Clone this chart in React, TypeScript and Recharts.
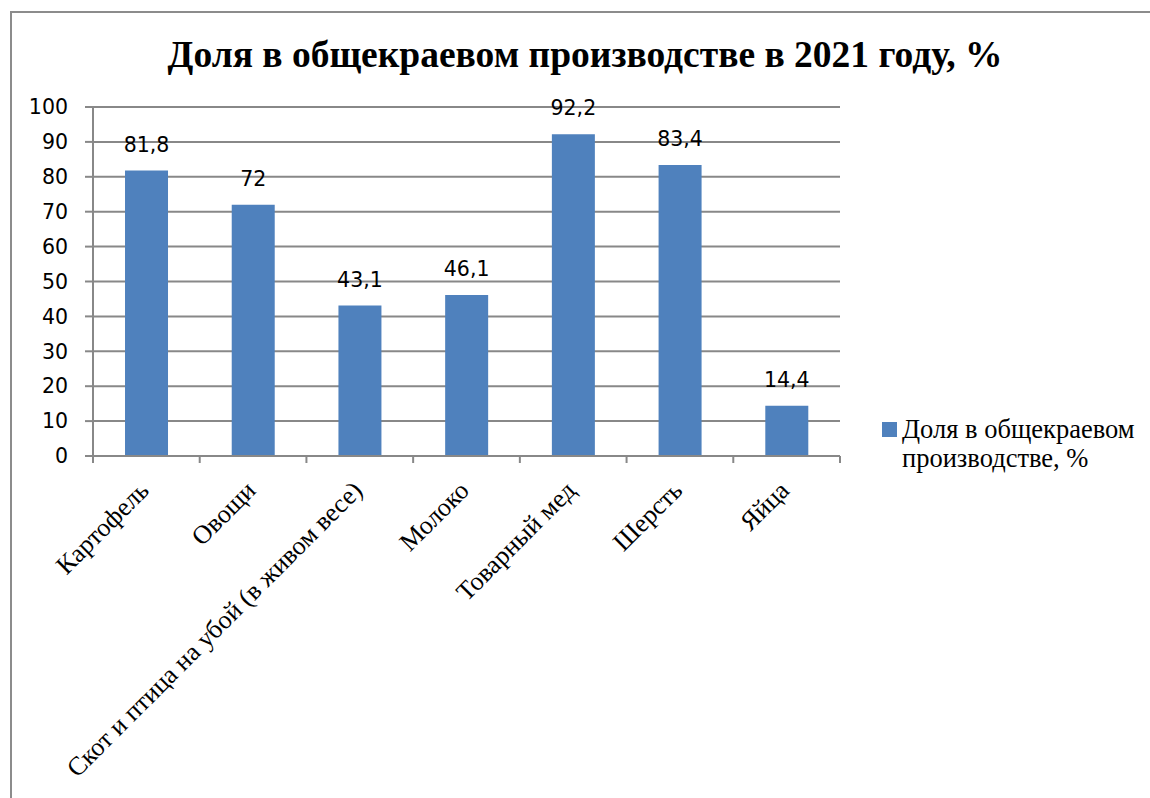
import React from 'react';
import { BarChart, Bar, XAxis, YAxis, CartesianGrid, LabelList } from 'recharts';

// categories and values
const categories = [
  'Картофель',
  'Овощи',
  'Скот и птица на убой (в живом весе)',
  'Молоко',
  'Товарный мед',
  'Шерсть',
  'Яйца',
];
const shares = [81.8, 72, 43.1, 46.1, 92.2, 83.4, 14.4];
const yTicks = [0, 10, 20, 30, 40, 50, 60, 70, 80, 90, 100];

const seriesName = 'Доля в общекраевом производстве, %';
const title = 'Доля в общекраевом производстве в 2021 году, %';

const data = categories.map((name, i) => ({ name, value: shares[i] }));

const SERIF = '"Liberation Serif", "Times New Roman", serif';
const SANS = '"DejaVu Sans", "Noto Sans", sans-serif';

const PLOT_LEFT = 93;
const PLOT_RIGHT = 840;
const BAND = (PLOT_RIGHT - PLOT_LEFT) / categories.length;

// Excel style: tick marks sit between categories, label hangs off the center
function XTick(props) {
  const { x, y, payload, index } = props;
  const last = index === categories.length - 1;
  return (
    <g>
      <line x1={x - BAND / 2} x2={x - BAND / 2} y1={y} y2={y + 7} stroke="#888" strokeWidth={2} />
      {last && <line x1={x + BAND / 2} x2={x + BAND / 2} y1={y} y2={y + 7} stroke="#888" strokeWidth={2} />}
      <g transform={`translate(${x + 4},${y + 36})`}>
        <text transform="rotate(-45)" textAnchor="end" fontFamily={SERIF} fontSize={26} fill="#000">
          {payload.value}
        </text>
      </g>
    </g>
  );
}

export default function App() {
  return (
    <div style={{ position: 'absolute', left: 0, top: 0, width: 1150, height: 798, overflow: 'hidden', background: '#fff' }}>
      <div
        style={{
          position: 'absolute', left: 10, top: 11, width: 1160, height: 820,
          border: '2px solid #8c8c8c', boxSizing: 'border-box',
        }}
      />
      <div
        style={{
          position: 'absolute', left: 0, top: 33, width: 1170, textAlign: 'center',
          fontFamily: SERIF, fontWeight: 'bold', fontSize: 37.5, color: '#000',
        }}
      >
        {title}
      </div>
      <BarChart
        width={1150}
        height={798}
        data={data}
        margin={{ top: 107, right: 1150 - PLOT_RIGHT, left: 0, bottom: 0 }}
        barCategoryGap="30%"
        style={{ position: 'absolute', left: 0, top: 0 }}
      >
        <CartesianGrid vertical={false} stroke="#888" strokeWidth={2} />
        <XAxis
          dataKey="name"
          interval={0}
          height={342}
          tickSize={0}
          tickMargin={0}
          tickLine={false}
          stroke="#888"
          strokeWidth={2}
          tick={<XTick />}
        />
        <YAxis
          width={PLOT_LEFT}
          domain={[0, 100]}
          ticks={yTicks}
          interval={0}
          tickSize={8}
          tickMargin={17}
          stroke="#888"
          strokeWidth={2}
          tick={{ fontFamily: SANS, fontSize: 20.5, fill: '#000' }}
        />
        <Bar dataKey="value" name={seriesName} fill="#4F81BD" isAnimationActive={false}>
          <LabelList
            dataKey="value"
            position="top"
            offset={19}
            formatter={(v) => String(v).replace('.', ',')}
            style={{ fontFamily: SANS, fontSize: 20.5, fill: '#000' }}
          />
        </Bar>
      </BarChart>
      <div
        style={{
          position: 'absolute', left: 882, top: 415, display: 'flex', alignItems: 'flex-start',
          fontFamily: SERIF, fontSize: 26.5, lineHeight: '29px', color: '#000',
        }}
      >
        <div style={{ width: 15, height: 15, background: '#4F81BD', marginTop: 7, marginRight: 5, flex: 'none' }} />
        <div style={{ width: 250 }}>{seriesName}</div>
      </div>
    </div>
  );
}
